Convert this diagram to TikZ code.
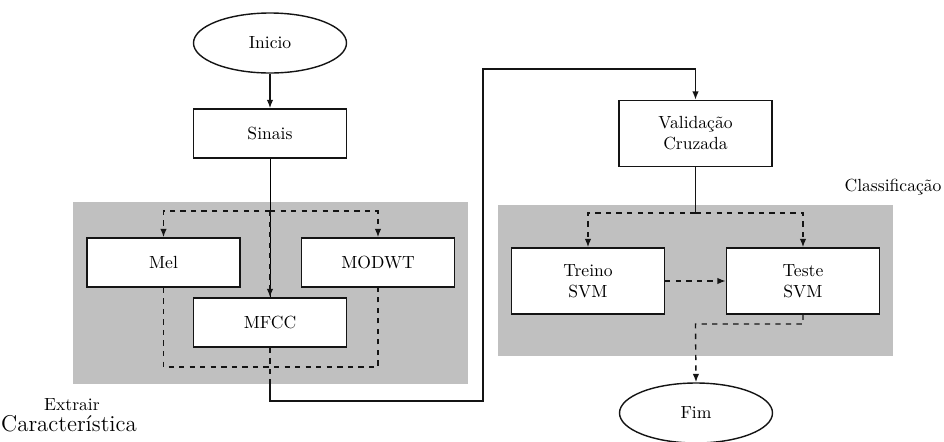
\documentclass[tikz,border=0pt]{standalone}
\usepackage{xcolor}
\usepackage{tikz}
\usetikzlibrary{arrows.meta,shapes.geometric,calc}
\definecolor{fcedge}{RGB}{20,20,20}
\definecolor{fcgray}{RGB}{192,192,192}
\tikzset{
  flbox/.style={
    draw=fcedge, line width=0.8pt, fill=white,
    align=center, inner sep=2pt, font=\normalsize,
    minimum width=30.6mm, minimum height=9.8mm
  },
  tallbox/.style={flbox, minimum height=13.2mm},
  term/.style={
    ellipse, draw=fcedge, line width=0.8pt, fill=white,
    inner sep=0pt, minimum width=30.6mm, minimum height=12mm
  },
  arr/.style={-{Latex[length=1.7mm,width=1.3mm]}, draw=fcedge, line width=0.8pt},
  darr/.style={arr, dashed},
  dline/.style={draw=fcedge, line width=0.8pt, dashed},
  sline/.style={draw=fcedge, line width=0.8pt},
  grp/.style={fill=fcgray},
  anno/.style={align=center}
}
\begin{document}
\begin{tikzpicture}[x=1cm,y=1cm]
  \useasboundingbox (0,0) rectangle (18.88,-8.82);
  % grey groups
  \fill[grp] (1.46,-4.04) rectangle (9.36,-7.68);
  \fill[grp] (9.96,-4.10) rectangle (17.86,-7.12);

  \node[term] (inicio) at (5.40,-0.86) {Inicio};
  \node[flbox] (sinais) at (5.40,-2.67) {Sinais};
  \node[flbox] (mel) at (3.27,-5.25) {Mel};
  \node[flbox] (modwt) at (7.56,-5.25) {MODWT};
  \node[flbox] (mfcc) at (5.40,-6.45) {MFCC};
  \node[tallbox] (valid) at (13.91,-2.67) {Validação\\Cruzada};
  \node[tallbox] (treino) at (11.76,-5.62) {Treino\\SVM};
  \node[tallbox] (teste) at (16.06,-5.62) {Teste\\SVM};
  \node[term] (fim) at (13.92,-8.26) {Fim};

  \coordinate (split) at (5.40,-4.22);
  \coordinate (mbot) at (5.40,-7.34);
  \coordinate (gout) at (5.40,-7.68);
  \coordinate (loopa) at (9.66,-8.02);
  \coordinate (loopb) at (9.66,-1.38);
  \coordinate (split2) at (13.91,-4.26);
  \coordinate (tjoin) at (13.91,-6.48);

  \draw[arr] (inicio) -- (sinais);
  \draw[thin] (sinais.south) -- (mfcc.north);
  \draw[darr] (split) -| (mel.north);
  \draw[darr] (split) -| (modwt.north);
  \draw[darr] (split) -- (mfcc.north);
  \draw[dline] (mel.south) |- (mbot) -| (modwt.south);
  \draw[dline] (mfcc.south) -- (gout);
  \draw[arr] (gout) |- (loopa) -- (loopb) -| (valid.north);

  \draw[sline] (valid.south) -- (split2);
  \draw[darr] (split2) -| (treino.north);
  \draw[darr] (split2) -| (teste.north);
  \draw[darr] (treino) -- (teste);
  \draw[darr] (teste.south) |- (tjoin) -- (fim.north);

  \node[anno] (lblext) at (1.44,-8.10) {Extrair};
  \node[anno, font=\fontsize{13}{15}\selectfont] (lblcar) at (1.38,-8.48) {Característica};
  \node[anno] (lblcls) at (17.86,-3.74) {Classificação};
\end{tikzpicture}
\end{document}
